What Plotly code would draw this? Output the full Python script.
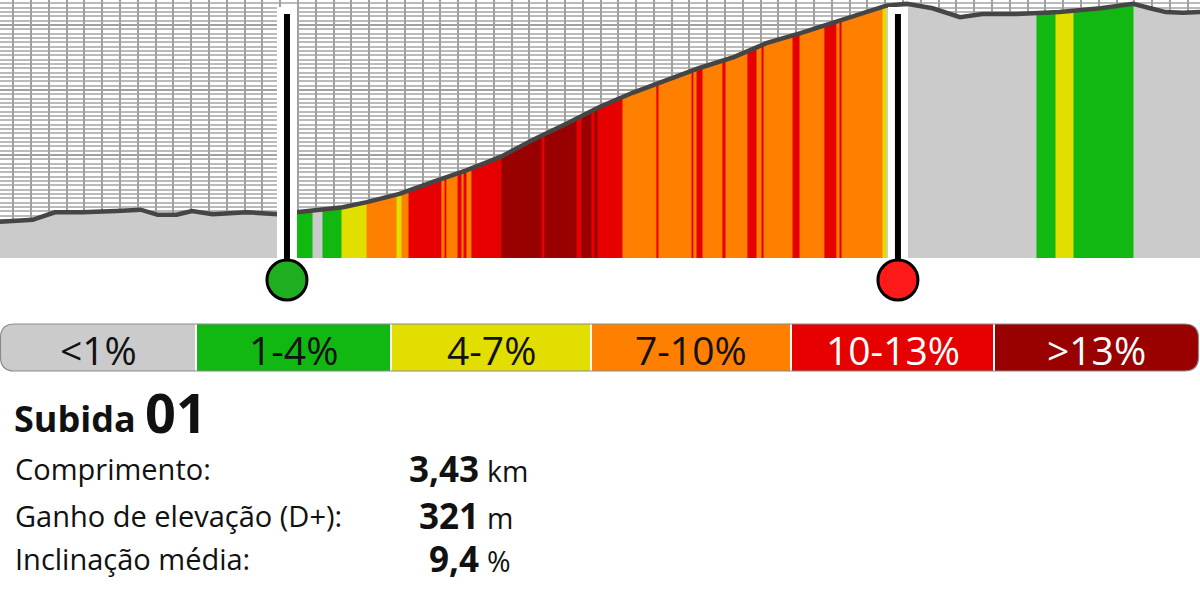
import numpy as np
import plotly.graph_objects as go

# ---------------- data ----------------
dist_km = [0.00, 0.19, 0.32, 0.48, 0.68, 0.82, 0.92, 1.03, 1.12, 1.24,
           1.44, 1.62, 1.73, 1.87, 2.00, 2.14, 2.33, 2.53, 2.72, 2.92,
           3.11, 3.31, 3.50, 3.69, 3.89, 4.08, 4.28, 4.47, 4.67, 4.86,
           5.06, 5.17, 5.29, 5.44, 5.60, 5.73, 5.93, 6.18, 6.42, 6.61,
           6.71, 6.80, 6.90, 7.00]
elev_m = [147, 150, 162, 162, 164, 166, 158, 158, 164, 159,
          162, 159, 162, 167, 170, 178, 191, 210, 228, 249,
          276, 302, 328, 350, 370, 389, 406, 428, 444, 460,
          476, 487, 490, 483, 469, 474, 474, 477, 483, 490,
          483, 477, 476, 477]

# gradient segments: boundaries (km) and gradient class of each segment
seg_bounds_km = [0.000, 1.733, 1.826, 1.884, 1.995, 2.141, 2.316, 2.345, 2.386, 2.578,
                 2.596, 2.607, 2.672, 2.695, 2.707, 2.724, 2.753, 2.928, 3.162, 3.179,
                 3.366, 3.395, 3.453, 3.471, 3.488, 3.634, 3.832, 3.844, 4.037, 4.048,
                 4.066, 4.101, 4.217, 4.235, 4.363, 4.416, 4.445, 4.457, 4.626, 4.667,
                 4.812, 4.882, 4.900, 4.912, 5.151, 5.174, 6.049, 6.160, 6.265, 6.615,
                 7.000]
seg_class = [0, 1, 0, 1, 2, 3, 2, 3, 4, 3,
             4, 3, 4, 3, 4, 3, 4, 5, 4, 5,
             4, 5, 4, 5, 4, 3, 4, 3, 4, 3,
             4, 3, 4, 3, 4, 3, 4, 3, 4, 3,
             4, 3, 4, 3, 2, 0, 1, 2, 1, 0]

class_labels = ["<1%", "1-4%", "4-7%", "7-10%", "10-13%", ">13%"]
class_colors = ["#cbcbcb", "#12b812", "#e1de00", "#ff8000", "#e60000", "#990000"]
class_text_colors = ["#111111", "#111111", "#111111", "#111111", "#ffffff", "#ffffff"]

climb_marker_km = [1.674, 5.238]
climb_marker_colors = ["#1fae1f", "#ff1a1a"]

climb_title = "Subida"
climb_number = "01"
stat_labels = ["Comprimento:", "Ganho de elevação (D+):", "Inclinação média:"]
stat_values = ["3,43", "321", "9,4"]
stat_units = ["km", "m", "%"]

# ---------------- figure ----------------
W, H = 1200, 600
PLOT_H = 258
FONT = "Open Sans"


def px(x):
    return x / W


def py(y):
    return 1 - y / H


def mid_from_baseline(base, size):
    return py(base - 0.385 * size)


fig = go.Figure()

dist = np.array(dist_km)
elev = np.array(elev_m)
for a, b, c in zip(seg_bounds_km[:-1], seg_bounds_km[1:], seg_class):
    inner = [d for d in dist_km if a < d < b]
    xs = [a] + inner + [b]
    ys = list(np.interp(xs, dist, elev))
    xs_poly = xs + [b, a, a]
    ys_poly = ys + [0, 0, ys[0]]
    fig.add_trace(go.Scatter(
        x=xs_poly, y=ys_poly, mode="lines", fill="toself",
        fillcolor=class_colors[c], line=dict(color=class_colors[c], width=1),
        hoverinfo="skip", showlegend=False))

fig.add_trace(go.Scatter(
    x=dist_km, y=elev_m, mode="lines",
    line=dict(color="#454545", width=4.5),
    hoverinfo="skip", showlegend=False))

shapes = []
# climb start / end markers
for km, col in zip(climb_marker_km, climb_marker_colors):
    shapes.append(dict(type="rect", xref="x", xsizemode="pixel", xanchor=km,
                       x0=-10, x1=10, yref="paper", y0=py(PLOT_H), y1=py(7),
                       fillcolor="white", line=dict(width=0), layer="above"))
    shapes.append(dict(type="line", xref="x", xsizemode="pixel", xanchor=km,
                       x0=0, x1=0, yref="paper", y0=py(264), y1=py(14),
                       line=dict(color="black", width=6), layer="above"))
    shapes.append(dict(type="circle", xref="x", xsizemode="pixel", xanchor=km,
                       x0=-20, x1=20, yref="paper", ysizemode="pixel", yanchor=py(280),
                       y0=-20, y1=20, fillcolor=col,
                       line=dict(color="black", width=3), layer="above"))

# legend bar
bar_top, bar_bot = 324, 371
r = 14
n = len(class_labels)
bar_edges = [0.5, 196, 391, 591, 791, 994, 1198.5]
gap = 2


def path_from(cmds):
    out = []
    for cmd, pts in cmds:
        s = cmd
        for (x, y) in pts:
            s += " %.5f,%.5f" % (px(x), py(y))
        out.append(s)
    return " ".join(out) + " Z"


for i in range(n):
    x0 = bar_edges[i] + (gap / 2 if i > 0 else 0)
    x1 = bar_edges[i + 1] - (gap / 2 if i < n - 1 else 0)
    if i == 0:
        cmds = [("M", [(x0 + r, bar_top)]), ("L", [(x1, bar_top)]), ("L", [(x1, bar_bot)]),
                ("L", [(x0 + r, bar_bot)]), ("Q", [(x0, bar_bot), (x0, bar_bot - r)]),
                ("L", [(x0, bar_top + r)]), ("Q", [(x0, bar_top), (x0 + r, bar_top)])]
    elif i == n - 1:
        cmds = [("M", [(x0, bar_top)]), ("L", [(x1 - r, bar_top)]),
                ("Q", [(x1, bar_top), (x1, bar_top + r)]), ("L", [(x1, bar_bot - r)]),
                ("Q", [(x1, bar_bot), (x1 - r, bar_bot)]), ("L", [(x0, bar_bot)])]
    else:
        cmds = [("M", [(x0, bar_top)]), ("L", [(x1, bar_top)]), ("L", [(x1, bar_bot)]),
                ("L", [(x0, bar_bot)])]
    shapes.append(dict(type="path", xref="paper", yref="paper", path=path_from(cmds),
                       fillcolor=class_colors[i], line=dict(width=0), layer="above"))

x0, x1 = bar_edges[0], bar_edges[-1]
outline = [("M", [(x0 + r, bar_top)]), ("L", [(x1 - r, bar_top)]),
           ("Q", [(x1, bar_top), (x1, bar_top + r)]), ("L", [(x1, bar_bot - r)]),
           ("Q", [(x1, bar_bot), (x1 - r, bar_bot)]), ("L", [(x0 + r, bar_bot)]),
           ("Q", [(x0, bar_bot), (x0, bar_bot - r)]), ("L", [(x0, bar_top + r)]),
           ("Q", [(x0, bar_top), (x0 + r, bar_top)])]
shapes.append(dict(type="path", xref="paper", yref="paper", path=path_from(outline),
                   fillcolor="rgba(0,0,0,0)", line=dict(color="#8a8a8a", width=1.2),
                   layer="above"))

annotations = []
LEG_SIZE = 39
for i in range(n):
    cx = (bar_edges[i] + bar_edges[i + 1]) / 2
    annotations.append(dict(x=px(cx), y=py(349), xref="paper", yref="paper",
                            text=class_labels[i], showarrow=False,
                            xanchor="center", yanchor="middle",
                            font=dict(family=FONT, size=LEG_SIZE, color=class_text_colors[i])))

annotations.append(dict(x=px(12), y=mid_from_baseline(432, 36), xref="paper", yref="paper",
                        text="<b>%s</b>" % climb_title,
                        showarrow=False, xanchor="left", yanchor="middle",
                        font=dict(family=FONT, size=36, color="#111111")))
annotations.append(dict(x=px(143), y=mid_from_baseline(433, 54), xref="paper", yref="paper",
                        text="<b>%s</b>" % climb_number,
                        showarrow=False, xanchor="left", yanchor="middle",
                        font=dict(family=FONT, size=54, color="#111111")))

row_base = [480, 527, 570]
LAB_SIZE, VAL_SIZE, UNIT_SIZE = 29, 35, 28.5
for lab, val, unit, yy in zip(stat_labels, stat_values, stat_units, row_base):
    annotations.append(dict(x=px(13), y=mid_from_baseline(yy, LAB_SIZE), xref="paper",
                            yref="paper", text=lab,
                            showarrow=False, xanchor="left", yanchor="middle",
                            font=dict(family=FONT, size=LAB_SIZE, color="#111111")))
    annotations.append(dict(x=px(481), y=mid_from_baseline(yy + 2, VAL_SIZE), xref="paper",
                            yref="paper", text="<b>%s</b>" % val, showarrow=False,
                            xanchor="right", yanchor="middle",
                            font=dict(family=FONT, size=VAL_SIZE, color="#111111")))
    annotations.append(dict(x=px(485), y=mid_from_baseline(yy + 2, UNIT_SIZE), xref="paper",
                            yref="paper", text=unit,
                            showarrow=False, xanchor="left", yanchor="middle",
                            font=dict(family=FONT, size=UNIT_SIZE, color="#111111")))

fig.update_layout(
    width=W, height=H,
    margin=dict(l=0, r=0, t=0, b=0, pad=0),
    paper_bgcolor="white", plot_bgcolor="white",
    showlegend=False,
    xaxis=dict(range=[0, 7.0], domain=[0, 1], showgrid=True, gridcolor="#a0a0a0",
               gridwidth=2.3, tick0=0.0776, dtick=0.1038, showticklabels=False,
               ticks="", zeroline=False, showline=False, fixedrange=True),
    yaxis=dict(range=[90, 496], domain=[1 - PLOT_H / H, 1], showgrid=True,
               gridcolor="#a0a0a0", gridwidth=1.8, tick0=456.6, dtick=102.3,
               minor=dict(tick0=456.6, dtick=6.82, showgrid=True, gridcolor="#bababa",
                          gridwidth=2, ticks=""),
               showticklabels=False, ticks="", zeroline=False, showline=False,
               fixedrange=True),
    shapes=shapes,
    annotations=annotations,
)

fig.write_html("out.html", config={"displayModeBar": False},
               post_script="document.body.style.margin='0px';")
